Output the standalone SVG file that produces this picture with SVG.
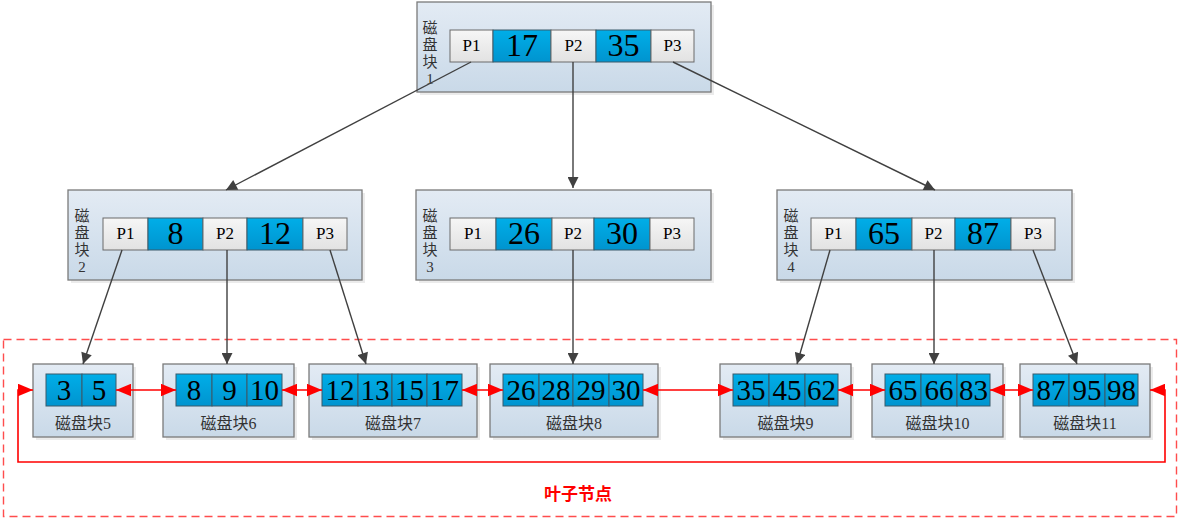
<svg xmlns="http://www.w3.org/2000/svg" width="1187" height="523" viewBox="0 0 1187 523">
<defs>
<linearGradient id="gBox" x1="0" y1="0" x2="0" y2="1"><stop offset="0" stop-color="#e3ebf4"/><stop offset="1" stop-color="#c9d9e8"/></linearGradient>
<linearGradient id="gBlue" x1="0" y1="0" x2="0" y2="1"><stop offset="0" stop-color="#00aee8"/><stop offset="1" stop-color="#0094cf"/></linearGradient>
<linearGradient id="gGray" x1="0" y1="0" x2="0" y2="1"><stop offset="0" stop-color="#f6f6f6"/><stop offset="1" stop-color="#e2e2e2"/></linearGradient>
<marker id="ah" viewBox="0 0 10 10" refX="10" refY="5" markerWidth="12" markerHeight="11" markerUnits="userSpaceOnUse" orient="auto"><path d="M0,0 L10,5 L0,10 Z" fill="#404040"/></marker>
<marker id="ar" viewBox="0 0 12 10" refX="12" refY="5" markerWidth="15" markerHeight="13" markerUnits="userSpaceOnUse" orient="auto"><path d="M0,0 L12,5 L0,10 Z" fill="#ff0000"/></marker>
<marker id="arS" viewBox="0 0 12 10" refX="0" refY="5" markerWidth="15" markerHeight="13" markerUnits="userSpaceOnUse" orient="auto"><path d="M12,0 L0,5 L12,10 Z" fill="#ff0000"/></marker>
</defs>
<style>
.box{fill:url(#gBox);stroke:#7a7a7a;stroke-width:1.3}
.shadow{fill:#000;opacity:0.08}
.b{fill:url(#gBlue);stroke:#3a5a6a;stroke-width:1}
.g{fill:url(#gGray);stroke:#6a6a6a;stroke-width:1}
.num{font-family:"Liberation Serif",serif;font-size:32px;fill:#000;text-anchor:middle}
.lnum{font-family:"Liberation Serif",serif;font-size:29px;fill:#000;text-anchor:middle}
.p{font-family:"Liberation Serif",serif;font-size:17px;fill:#000;text-anchor:middle}
.lab{font-family:"Liberation Serif","Noto Sans CJK SC",serif;font-size:16px;fill:#333;text-anchor:middle}
.vlab{font-family:"Liberation Serif","Noto Sans CJK SC",serif;font-size:15px;fill:#333;text-anchor:middle}
.con{stroke:#404040;stroke-width:1.4;fill:none;marker-end:url(#ah)}
.red{stroke:#ff0000;stroke-width:1.6;fill:none}
</style>
<rect x="3.5" y="339.5" width="1173" height="177" fill="none" stroke="#ff4d4d" stroke-width="1.4" stroke-dasharray="8,5"/>
<g id="root">
<rect class="shadow" x="420" y="5" width="294" height="90"/>
<rect class="box" x="417" y="2" width="294" height="90"/>
<text class="vlab" x="430" y="33">磁</text><text class="vlab" x="430" y="50">盘</text><text class="vlab" x="430" y="67">块</text><text class="vlab" x="430" y="84">1</text>
<rect class="g" x="450" y="30" width="43" height="32"/><text class="p" x="471.5" y="51">P1</text>
<rect class="b" x="493" y="30" width="58" height="32"/><text class="num" x="522" y="56">17</text>
<rect class="g" x="551" y="30" width="45" height="32"/><text class="p" x="573.5" y="51">P2</text>
<rect class="b" x="596" y="30" width="55" height="32"/><text class="num" x="623.5" y="56">35</text>
<rect class="g" x="651" y="30" width="43" height="32"/><text class="p" x="672.5" y="51">P3</text>
</g>
<g id="n2">
<rect class="shadow" x="71" y="193" width="294" height="90"/>
<rect class="box" x="68" y="190" width="294" height="90"/>
<text class="vlab" x="82" y="221">磁</text><text class="vlab" x="82" y="238">盘</text><text class="vlab" x="82" y="255">块</text><text class="vlab" x="82" y="272">2</text>
<rect class="g" x="103" y="218" width="45" height="32"/><text class="p" x="125.5" y="239">P1</text>
<rect class="b" x="148" y="218" width="55" height="32"/><text class="num" x="175.5" y="244">8</text>
<rect class="g" x="203" y="218" width="44" height="32"/><text class="p" x="225" y="239">P2</text>
<rect class="b" x="247" y="218" width="56" height="32"/><text class="num" x="275" y="244">12</text>
<rect class="g" x="303" y="218" width="44" height="32"/><text class="p" x="325" y="239">P3</text>
</g>
<g id="n3">
<rect class="shadow" x="419" y="193" width="295" height="90"/>
<rect class="box" x="416" y="190" width="295" height="90"/>
<text class="vlab" x="430" y="221">磁</text><text class="vlab" x="430" y="238">盘</text><text class="vlab" x="430" y="255">块</text><text class="vlab" x="430" y="272">3</text>
<rect class="g" x="450" y="218" width="46" height="32"/><text class="p" x="473" y="239">P1</text>
<rect class="b" x="496" y="218" width="56" height="32"/><text class="num" x="524" y="244">26</text>
<rect class="g" x="552" y="218" width="42" height="32"/><text class="p" x="573" y="239">P2</text>
<rect class="b" x="594" y="218" width="56" height="32"/><text class="num" x="622" y="244">30</text>
<rect class="g" x="650" y="218" width="44" height="32"/><text class="p" x="672" y="239">P3</text>
</g>
<g id="n4">
<rect class="shadow" x="780" y="193" width="295" height="90"/>
<rect class="box" x="777" y="190" width="295" height="90"/>
<text class="vlab" x="791" y="221">磁</text><text class="vlab" x="791" y="238">盘</text><text class="vlab" x="791" y="255">块</text><text class="vlab" x="791" y="272">4</text>
<rect class="g" x="811" y="218" width="45" height="32"/><text class="p" x="833.5" y="239">P1</text>
<rect class="b" x="856" y="218" width="56" height="32"/><text class="num" x="884" y="244">65</text>
<rect class="g" x="912" y="218" width="43" height="32"/><text class="p" x="933.5" y="239">P2</text>
<rect class="b" x="955" y="218" width="56" height="32"/><text class="num" x="983" y="244">87</text>
<rect class="g" x="1011" y="218" width="44" height="32"/><text class="p" x="1033" y="239">P3</text>
</g>
<g id="n5">
<rect class="shadow" x="36" y="367" width="100" height="73"/>
<rect class="box" x="33" y="364" width="100" height="73"/>
<rect class="b" x="46" y="374" width="36" height="32"/><text class="lnum" x="64" y="400">3</text>
<rect class="b" x="82" y="374" width="34" height="32"/><text class="lnum" x="99" y="400">5</text>
<text class="lab" x="83" y="429">磁盘块5</text>
</g>
<g id="n6">
<rect class="shadow" x="166" y="367" width="131" height="73"/>
<rect class="box" x="163" y="364" width="131" height="73"/>
<rect class="b" x="176" y="374" width="36" height="32"/><text class="lnum" x="194" y="400">8</text>
<rect class="b" x="212" y="374" width="35" height="32"/><text class="lnum" x="229.5" y="400">9</text>
<rect class="b" x="247" y="374" width="35" height="32"/><text class="lnum" x="264.5" y="400">10</text>
<text class="lab" x="228.5" y="429">磁盘块6</text>
</g>
<g id="n7">
<rect class="shadow" x="312" y="367" width="168" height="73"/>
<rect class="box" x="309" y="364" width="168" height="73"/>
<rect class="b" x="322" y="374" width="36" height="32"/><text class="lnum" x="340" y="400">12</text>
<rect class="b" x="358" y="374" width="34" height="32"/><text class="lnum" x="375" y="400">13</text>
<rect class="b" x="392" y="374" width="35" height="32"/><text class="lnum" x="409.5" y="400">15</text>
<rect class="b" x="427" y="374" width="35" height="32"/><text class="lnum" x="444.5" y="400">17</text>
<text class="lab" x="393" y="429">磁盘块7</text>
</g>
<g id="n8">
<rect class="shadow" x="493" y="367" width="168" height="73"/>
<rect class="box" x="490" y="364" width="168" height="73"/>
<rect class="b" x="503" y="374" width="36" height="32"/><text class="lnum" x="521" y="400">26</text>
<rect class="b" x="539" y="374" width="34" height="32"/><text class="lnum" x="556" y="400">28</text>
<rect class="b" x="573" y="374" width="36" height="32"/><text class="lnum" x="591" y="400">29</text>
<rect class="b" x="609" y="374" width="34" height="32"/><text class="lnum" x="626" y="400">30</text>
<text class="lab" x="574" y="429">磁盘块8</text>
</g>
<g id="n9">
<rect class="shadow" x="723" y="367" width="131" height="73"/>
<rect class="box" x="720" y="364" width="131" height="73"/>
<rect class="b" x="733" y="374" width="36" height="32"/><text class="lnum" x="751" y="400">35</text>
<rect class="b" x="769" y="374" width="36" height="32"/><text class="lnum" x="787" y="400">45</text>
<rect class="b" x="805" y="374" width="33" height="32"/><text class="lnum" x="821.5" y="400">62</text>
<text class="lab" x="785.5" y="429">磁盘块9</text>
</g>
<g id="n10">
<rect class="shadow" x="875" y="367" width="131" height="73"/>
<rect class="box" x="872" y="364" width="131" height="73"/>
<rect class="b" x="885" y="374" width="36" height="32"/><text class="lnum" x="903" y="400">65</text>
<rect class="b" x="921" y="374" width="36" height="32"/><text class="lnum" x="939" y="400">66</text>
<rect class="b" x="957" y="374" width="33" height="32"/><text class="lnum" x="973.5" y="400">83</text>
<text class="lab" x="937.5" y="429">磁盘块10</text>
</g>
<g id="n11">
<rect class="shadow" x="1023" y="367" width="130" height="73"/>
<rect class="box" x="1020" y="364" width="130" height="73"/>
<rect class="b" x="1033" y="374" width="36" height="32"/><text class="lnum" x="1051" y="400">87</text>
<rect class="b" x="1069" y="374" width="36" height="32"/><text class="lnum" x="1087" y="400">95</text>
<rect class="b" x="1105" y="374" width="33" height="32"/><text class="lnum" x="1121.5" y="400">98</text>
<text class="lab" x="1085" y="429">磁盘块11</text>
</g>
<g id="connectors">
<line class="con" x1="471" y1="62" x2="226" y2="190"/>
<line class="con" x1="573" y1="62" x2="573" y2="188"/>
<line class="con" x1="673" y1="62" x2="935" y2="190"/>
<line class="con" x1="122" y1="250" x2="83" y2="364"/>
<line class="con" x1="227" y1="250" x2="227" y2="364"/>
<line class="con" x1="330" y1="250" x2="366" y2="364"/>
<line class="con" x1="573" y1="250" x2="573" y2="364"/>
<line class="con" x1="830" y1="250" x2="797" y2="364"/>
<line class="con" x1="934" y1="250" x2="934" y2="364"/>
<line class="con" x1="1033" y1="250" x2="1077" y2="364"/>
<line class="red" x1="116" y1="390" x2="176" y2="390" marker-start="url(#arS)" marker-end="url(#ar)"/>
<line class="red" x1="282" y1="390" x2="322" y2="390" marker-start="url(#arS)" marker-end="url(#ar)"/>
<line class="red" x1="462" y1="390" x2="503" y2="390" marker-start="url(#arS)" marker-end="url(#ar)"/>
<line class="red" x1="643" y1="390" x2="733" y2="390" marker-start="url(#arS)" marker-end="url(#ar)"/>
<line class="red" x1="838" y1="390" x2="885" y2="390" marker-start="url(#arS)" marker-end="url(#ar)"/>
<line class="red" x1="990" y1="390" x2="1033" y2="390" marker-start="url(#arS)" marker-end="url(#ar)"/>
<polyline class="red" points="1150,390 1165,390 1165,462 18,462 18,390 33,390" marker-start="url(#arS)" marker-end="url(#ar)"/>
</g>
<text x="578" y="500" font-family="'Noto Sans CJK SC',sans-serif" font-size="17" font-weight="bold" fill="#ff0000" text-anchor="middle">叶子节点</text>
</svg>
